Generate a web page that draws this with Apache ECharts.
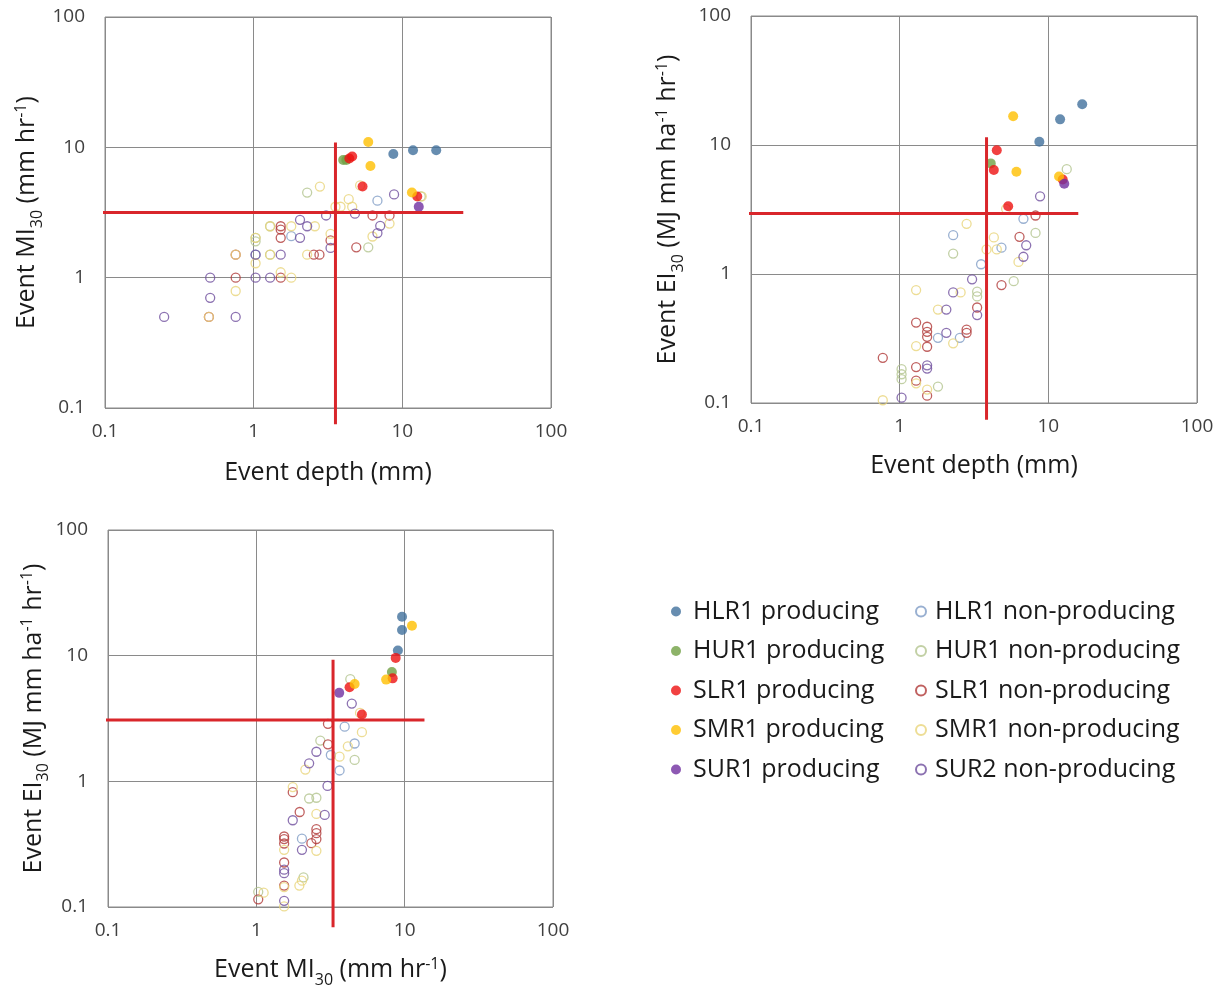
<!DOCTYPE html>
<html>
<head>
<meta charset="utf-8">
<script src="https://cdn.jsdelivr.net/npm/echarts@6.0.0/dist/echarts.min.js"></script>
<style>
  html, body { margin: 0; padding: 0; background: #fff; }
  #chart { width: 1224px; height: 991px; }
</style>
</head>
<body>
<div id="chart"></div>
<script>
// series names, legend order
const seriesNames = [
  'HLR1 producing', 'HUR1 producing', 'SLR1 producing', 'SMR1 producing', 'SUR1 producing',
  'HLR1 non-producing', 'HUR1 non-producing', 'SLR1 non-producing', 'SMR1 non-producing', 'SUR2 non-producing'
];
const seriesColors = [
  '#41719c', '#70a044', '#ee1111', '#ffbf00', '#7030a0',
  '#7f9cc6', '#b3c48f', '#b03a38', '#e8d57a', '#6f4f9e'
];
const tickValues = [0.1, 1, 10, 100];

// panel 1: event depth (mm) vs event MI30 (mm/hr)
const depthMI = [
  [[8.7, 8.9], [11.8, 9.5], [16.9, 9.5]],
  [[4.0, 8.0], [4.2, 8.0]],
  [[4.4, 8.2], [4.6, 8.5], [5.4, 5.0], [12.6, 4.2]],
  [[5.9, 11], [6.1, 7.2], [11.6, 4.5]],
  [[12.9, 3.5]],
  [[6.8, 3.9], [1.79, 2.08], [1.03, 1.5]],
  [[2.29, 4.5], [5.9, 1.71], [1.03, 2.02], [1.03, 1.9], [1.29, 1.5], [13.3, 4.2], [1.29, 2.48]],
  [[1.52, 2.48], [1.52, 2.34], [1.52, 2.02], [3.29, 1.93], [4.9, 1.71], [6.3, 3.0], [8.2, 3.0],
   [2.54, 1.5], [2.77, 1.5], [0.757, 1.0], [1.52, 1.0], [0.5, 0.5], [0.757, 1.5]],
  [[2.79, 5.0], [4.36, 4.0], [3.84, 3.5], [4.6, 3.5], [3.55, 3.5], [8.2, 2.6], [6.3, 2.07],
   [2.58, 2.48], [1.29, 2.48], [1.79, 2.48], [3.29, 2.17], [2.29, 1.5], [1.29, 1.5], [1.03, 1.29],
   [1.52, 1.1], [1.79, 1.0], [0.757, 0.79], [0.757, 1.5], [0.5, 0.5], [13.5, 4.2], [1.03, 2.02], [5.2, 5.1]],
  [[8.8, 4.35], [3.07, 3.0], [4.8, 3.1], [7.1, 2.5], [6.8, 2.2], [2.05, 2.78], [2.29, 2.48],
   [2.05, 2.02], [3.29, 1.69], [1.03, 1.5], [1.52, 1.5], [0.51, 1.0], [1.03, 1.0], [1.29, 1.0],
   [0.51, 0.7], [0.757, 0.5], [0.25, 0.5]]
];

// panel 2: event depth (mm) vs event EI30
const depthEI = [
  [[8.7, 10.6], [12, 15.8], [16.9, 20.7]],
  [[4.1, 7.2]],
  [[4.5, 9.1], [4.3, 6.4], [5.37, 3.35], [12.5, 5.4]],
  [[5.8, 16.7], [6.1, 6.2], [11.8, 5.7]],
  [[12.8, 5.0]],
  [[6.8, 2.68], [2.29, 2.0], [4.84, 1.6], [1.81, 0.32], [2.54, 0.32], [3.53, 1.19]],
  [[13.3, 6.5], [8.2, 2.08], [2.29, 1.44], [5.85, 0.88], [3.32, 0.73], [3.32, 0.67],
   [1.03, 0.183], [1.03, 0.167], [1.03, 0.153], [1.81, 0.134]],
  [[8.2, 2.84], [6.4, 1.94], [4.84, 0.82], [3.32, 0.55], [1.29, 0.42], [1.53, 0.39], [1.53, 0.356],
   [1.53, 0.326], [1.53, 0.273], [2.82, 0.37], [2.82, 0.35], [0.77, 0.224], [1.29, 0.19],
   [1.53, 0.114], [1.29, 0.149]],
  [[2.82, 2.45], [4.3, 1.92], [3.84, 1.55], [4.5, 1.55], [6.3, 1.24], [1.29, 0.75], [2.57, 0.72],
   [1.81, 0.53], [2.29, 0.29], [1.29, 0.276], [1.29, 0.142], [1.53, 0.127], [0.77, 0.105], [5.2, 3.2]],
  [[8.8, 4.0], [7.1, 1.67], [6.8, 1.36], [3.07, 0.91], [2.29, 0.72], [2.06, 0.53], [3.32, 0.48],
   [2.06, 0.35], [1.53, 0.196], [1.53, 0.185], [1.03, 0.11]]
];

// panel 3: event MI30 vs event EI30
const miEI = [
  [[9.6, 20.4], [9.6, 16], [9.0, 11.0]],
  [[8.2, 7.4]],
  [[8.7, 9.6], [8.3, 6.6], [4.25, 5.6], [5.15, 3.4]],
  [[11.2, 17.3], [7.5, 6.45], [4.6, 5.96]],
  [[3.62, 5.06]],
  [[3.94, 2.72], [4.6, 2.0], [3.18, 1.62], [3.64, 1.22], [2.03, 0.35]],
  [[4.3, 6.5], [2.7, 2.11], [4.6, 1.48], [2.27, 0.73], [2.54, 0.74], [1.03, 0.132], [2.08, 0.172]],
  [[3.04, 2.87], [3.04, 1.97], [1.76, 0.82], [1.96, 0.57], [2.54, 0.416], [2.54, 0.387], [2.54, 0.347],
   [1.54, 0.364], [1.54, 0.347], [1.54, 0.32], [2.35, 0.322], [1.54, 0.226], [1.03, 0.115], [1.54, 0.148]],
  [[5.15, 2.46], [4.14, 1.9], [3.64, 1.57], [2.14, 1.24], [1.76, 0.9], [2.54, 0.55], [1.54, 0.285],
   [2.54, 0.28], [1.54, 0.144], [2.03, 0.162], [1.95, 0.148], [1.12, 0.13], [1.54, 0.101], [5.0, 3.5]],
  [[4.4, 4.16], [2.54, 1.72], [2.27, 1.39], [3.02, 0.92], [2.89, 0.54], [1.76, 0.49], [2.03, 0.285],
   [1.54, 0.198], [1.54, 0.186], [1.54, 0.112]]
];

// red threshold lines per panel: [vertical segment], [horizontal segment]
const thresholdLines = [
  [[[3.55, 0.075], [3.55, 10.9]], [[0.061, 3.16], [25.7, 3.16]]],
  [[[3.84, 0.074], [3.84, 11.5]], [[0.079, 2.95], [15.9, 2.95]]],
  [[[3.29, 0.069], [3.29, 9.3]], [[0.062, 3.07], [13.6, 3.07]]]
];

const FONT = '"Open Sans", sans-serif';
const panelData = [depthMI, depthEI, miEI];

const titleRich = {
  n: { fontSize: 25, fontFamily: FONT, color: '#1a1a1a', lineHeight: 32 },
  sub: { fontSize: 16, fontFamily: FONT, color: '#1a1a1a', lineHeight: 32, verticalAlign: 'bottom', padding: [0, 0, -2, 0] },
  sup: { fontSize: 16, fontFamily: FONT, color: '#1a1a1a', lineHeight: 32, verticalAlign: 'top', padding: [2, 0, 0, 0] }
};
const xNames = [
  '{n|Event depth (mm)}',
  '{n|Event depth (mm)}',
  '{n|Event MI}{sub|30}{n| (mm hr}{sup|-1}{n|)}'
];
const yNames = [
  '{n|Event MI}{sub|30}{n| (mm hr}{sup|-1}{n|)}',
  '{n|Event EI}{sub|30}{n| (MJ mm ha}{sup|-1}{n| hr}{sup|-1}{n|)}',
  '{n|Event EI}{sub|30}{n| (MJ mm ha}{sup|-1}{n| hr}{sup|-1}{n|)}'
];
const grids = [
  { left: 105, top: 17, width: 446, height: 391 },
  { left: 751, top: 16, width: 446, height: 387 },
  { left: 108, top: 530, width: 445, height: 377 }
];
const xGaps = [49, 47, 47];
const yGaps = [62, 67, 56];

const mkAxis = (i, dim) => ({
  type: 'log',
  logBase: 10,
  gridIndex: i,
  min: 0.1,
  max: 100,
  name: dim === 'x' ? xNames[i] : yNames[i],
  nameLocation: 'middle',
  nameGap: dim === 'x' ? xGaps[i] : yGaps[i],
  nameTextStyle: { rich: titleRich },
  axisLine: { show: false },
  axisTick: { show: false },
  splitLine: { show: true, lineStyle: { color: '#8a8a8a', width: 1 } },
  axisLabel: {
    fontFamily: FONT,
    fontSize: 19,
    color: '#404040',
    margin: dim === 'x' ? 14 : 20,
    formatter: v => {
      const t = tickValues.find(tv => Math.abs(tv - v) / tv < 1e-6);
      return t === undefined ? '' : String(t);
    }
  }
});

const series = [];
const order = [5, 6, 7, 8, 9, 0, 1, 2, 3, 4];
panelData.forEach((pd, p) => {
  order.forEach(k => {
    const filled = k < 5;
    series.push({
      type: 'scatter',
      name: seriesNames[k],
      xAxisIndex: p,
      yAxisIndex: p,
      data: pd[k],
      symbol: 'circle',
      symbolSize: filled ? 10 : 9,
      itemStyle: filled
        ? { color: seriesColors[k] }
        : { color: 'rgba(255,255,255,0)', borderColor: seriesColors[k], borderWidth: 1.3 },
      z: filled ? 3 : 2
    });
  });
  thresholdLines[p].forEach(seg => {
    series.push({
      type: 'line',
      xAxisIndex: p,
      yAxisIndex: p,
      data: seg,
      clip: false,
      symbol: 'none',
      silent: true,
      lineStyle: { color: '#d9262b', width: 3 },
      z: 4
    });
  });
});

const legendCommon = {
  orient: 'vertical',
  top: 594,
  itemHeight: 10,
  itemGap: 14.5,
  textStyle: { fontFamily: FONT, fontSize: 25, color: '#1a1a1a' }
};

const chart = echarts.init(document.getElementById('chart'));
chart.setOption({
  animation: false,
  backgroundColor: '#fff',
  grid: grids.map(g => Object.assign({ show: true, borderColor: '#8a8a8a', borderWidth: 1 }, g)),
  xAxis: [0, 1, 2].map(i => mkAxis(i, 'x')),
  yAxis: [0, 1, 2].map(i => mkAxis(i, 'y')),
  legend: [
    Object.assign({}, legendCommon, { left: 666, itemWidth: 24, data: seriesNames.slice(0, 5) }),
    Object.assign({}, legendCommon, { left: 910, itemWidth: 18, data: seriesNames.slice(5) })
  ],
  series: series
});
</script>
</body>
</html>
